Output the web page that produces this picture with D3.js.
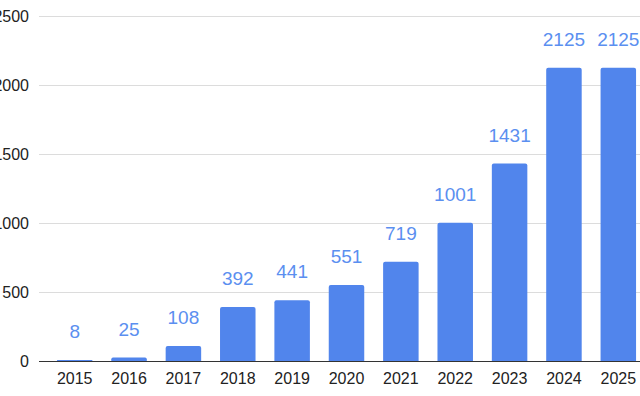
<!DOCTYPE html>
<html><head><meta charset="utf-8">
<script src="https://cdn.jsdelivr.net/npm/d3@7/dist/d3.min.js"></script>
<style>html,body{margin:0;padding:0;background:#fff;overflow:hidden}svg{display:block}</style>
</head><body>
<svg id="c" width="640" height="396"></svg>
<script>
const years = ["2015","2016","2017","2018","2019","2020","2021","2022","2023","2024","2025"];
const values = [8,25,108,392,441,551,719,1001,1431,2125,2125];
const yTicks = [0,500,1000,1500,2000,2500];

const svg = d3.select("#c");
const font = "'Liberation Sans', Arial, sans-serif";
const plotLeft = 39, plotRight = 654;
const y = d3.scaleLinear().domain([0,2500]).range([361,16]);
const x = d3.scaleBand().domain(years).range([plotLeft, plotRight]).paddingInner(0.347).paddingOuter(0.33);

// gridlines
svg.append("g").selectAll("line").data(yTicks.filter(d=>d>0)).join("line")
  .attr("x1", plotLeft).attr("x2", 640)
  .attr("y1", d=>Math.round(y(d))+0.5).attr("y2", d=>Math.round(y(d))+0.5)
  .attr("stroke", "#dcdcdc").attr("stroke-width", 1);

// y labels
svg.append("g").selectAll("text").data(yTicks).join("text")
  .attr("x", 29).attr("y", d=>y(d)+6)
  .attr("text-anchor","end").attr("font-family",font).attr("font-size",16).attr("fill","#222")
  .text(d=>d);

// bars
svg.append("g").selectAll("path").data(years).join("path")
  .attr("fill","#5185ec")
  .attr("d",(d,i)=>{
    const x0 = x(d), w = x.bandwidth(), top = y(values[i]), bot = y(0);
    const r = Math.min(2, (bot-top)/2);
    return `M${x0},${bot}V${top+r}Q${x0},${top} ${x0+r},${top}H${x0+w-r}Q${x0+w},${top} ${x0+w},${top+r}V${bot}Z`;
  });

// baseline
svg.append("line").attr("x1",plotLeft).attr("x2",640).attr("y1",361.5).attr("y2",361.5)
  .attr("stroke","#333").attr("stroke-width",1);

// value labels
svg.append("g").selectAll("text").data(years).join("text")
  .attr("x", d=>x(d)+x.bandwidth()/2).attr("y",(d,i)=>y(values[i])-22)
  .attr("text-anchor","middle").attr("font-family",font).attr("font-size",19).attr("fill","#5b8ff0")
  .text((d,i)=>values[i]);

// x labels
svg.append("g").selectAll("text").data(years).join("text")
  .attr("x", d=>x(d)+x.bandwidth()/2).attr("y",384)
  .attr("text-anchor","middle").attr("font-family",font).attr("font-size",16).attr("fill","#222")
  .text(d=>d);
</script>
</body></html>
